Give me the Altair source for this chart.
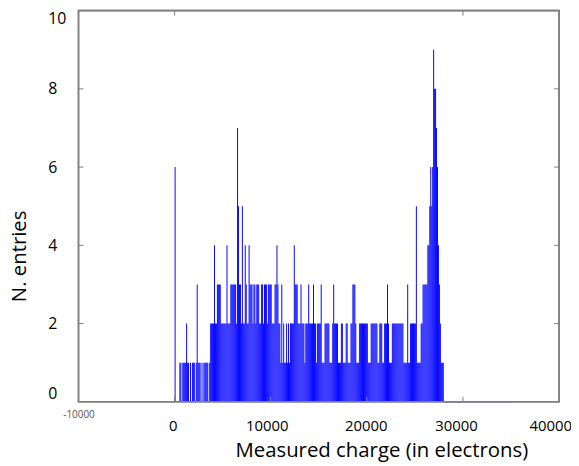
import altair as alt
import pandas as pd

# ---- data (histogram, 100-electron bins starting at 0) ----
bin_width = 100
counts = [
    6, 0, 0, 0, 0, 1, 1, 0, 1, 1,   # 0 - 900
    1, 1, 2, 1, 1, 0, 1, 0, 1, 1,   # 1000
    1, 0, 1, 3, 1, 1, 1, 0, 1, 0,   # 2000
    1, 1, 1, 1, 1, 0, 1, 2, 2, 2,   # 3000
    2, 4, 2, 2, 3, 3, 3, 3, 2, 2,   # 4000
    2, 2, 2, 2, 4, 2, 2, 2, 3, 3,   # 5000
    3, 3, 3, 3, 2, 7, 5, 3, 3, 2,   # 6000
    5, 2, 2, 4, 3, 2, 2, 4, 3, 3,   # 7000
    3, 2, 3, 3, 2, 3, 3, 3, 2, 2,   # 8000
    3, 3, 2, 3, 3, 3, 2, 3, 3, 3,   # 9000
    3, 2, 2, 2, 3, 3, 4, 3, 2, 2,   # 10000
    1, 3, 1, 2, 1, 1, 2, 1, 2, 1,   # 11000
    2, 2, 2, 2, 4, 3, 3, 3, 2, 2,   # 12000
    2, 3, 2, 2, 2, 1, 2, 2, 2, 3,   # 13000
    2, 2, 2, 2, 3, 2, 2, 1, 2, 2,   # 14000
    2, 2, 3, 1, 1, 1, 2, 2, 2, 2,   # 15000
    2, 1, 1, 1, 2, 3, 2, 2, 2, 2,   # 16000
    1, 1, 1, 2, 2, 1, 1, 1, 2, 2,   # 17000
    1, 1, 1, 2, 2, 3, 3, 3, 2, 1,   # 18000
    1, 1, 2, 2, 2, 2, 2, 2, 2, 2,   # 19000
    2, 1, 1, 1, 2, 2, 2, 2, 2, 2,   # 20000
    2, 1, 1, 2, 2, 2, 1, 1, 2, 2,   # 21000
    2, 3, 2, 1, 1, 1, 2, 2, 2, 2,   # 22000
    2, 2, 2, 2, 2, 2, 2, 2, 1, 1,   # 23000
    1, 1, 3, 1, 1, 2, 2, 2, 2, 2,   # 24000
    2, 5, 1, 1, 1, 1, 2, 2, 3, 3,   # 25000
    3, 3, 3, 4, 4, 5, 6, 5, 6, 9,   # 26000
    8, 8, 7, 6, 4, 3, 2, 1, 1, 1,   # 27000
]
x_ticks = [-10000, 0, 10000, 20000, 30000, 40000]
y_ticks = [0, 2, 4, 6, 8, 10]
inner_y_ticks = [2, 4, 6, 8]
top_ticks = [0, 30000]
bottom_ticks = [0, 10000, 20000, 30000]
tail_start = [28000]
tail_end = [35000]

starts = [i * bin_width for i in range(len(counts))]
hist = pd.DataFrame({"start": starts,
                     "end": [s + bin_width for s in starts],
                     "count": counts,
                     "base": [0] * len(counts)})
hist = hist[hist["count"] > 0]

FONT = "Open Sans"
W, H = 484, 394
FRAME = "#7f7f7f"

xscale = alt.Scale(domain=[-10000, 40000], nice=False, zero=False)
yscale = alt.Scale(domain=[0, 10], nice=False, zero=False)

x_axis = alt.Axis(
    values=x_ticks,
    title="Measured charge (in electrons)",
    labelExpr="datum.value < 0 ? '-' + format(-datum.value, 'd') : format(datum.value, 'd')",
    labelFont=FONT,
    labelFontSize={"condition": {"test": "datum.value == -10000", "value": 10}, "value": 15},
    labelColor={"condition": {"test": "datum.value == -10000", "value": "#555555"}, "value": "#000000"},
    labelPadding={"condition": {"test": "datum.value == -10000", "value": 8}, "value": 17},
    labelOffset={"condition": [
        {"test": "datum.value == 0", "value": -2},
        {"test": "datum.value == 10000", "value": -4},
        {"test": "datum.value == 20000", "value": -1},
        {"test": "datum.value == 30000", "value": -7},
        {"test": "datum.value == 40000", "value": -9},
    ], "value": 0},
    labelFlush=False,
    labelOverlap=False,
    ticks=False,
    tickSize=0,
    domain=False,
    grid=False,
    titleFont=FONT,
    titleFontSize=20.5,
    titleFontWeight="normal",
    titleColor="#000000",
    titleX=305,
    titleY=55,
    titleAlign="center",
    titleBaseline="alphabetic",
)

y_axis = alt.Axis(
    values=y_ticks,
    title="N. entries",
    format="d",
    labelFont=FONT,
    labelFontSize=16,
    labelColor="#000000",
    labelAlign="left",
    labelPadding=31,
    labelFlush=True,
    ticks=False,
    tickSize=0,
    domain=False,
    grid=False,
    titleFont=FONT,
    titleFontSize=20.5,
    titleFontWeight="normal",
    titleColor="#000000",
    titleX=-53.5,
    titleY=247,
    titleAngle=270,
    titleAlign="center",
    titleBaseline="alphabetic",
)

bars = alt.Chart(hist).mark_rect(color="#0000ff").encode(
    x=alt.X("start:Q", scale=xscale, axis=x_axis),
    x2="end:Q",
    y=alt.Y("count:Q", scale=yscale, axis=y_axis),
    y2="base:Q",
)

tail = alt.Chart(pd.DataFrame({"start": tail_start, "end": tail_end, "count": [0]})).mark_rule(
    color="#7070c0", strokeWidth=1.5
).encode(
    x="start:Q",
    x2="end:Q",
    y="count:Q",
)

ydf = pd.DataFrame({"count": inner_y_ticks})
left_ticks = alt.Chart(ydf).mark_rule(color=FRAME, strokeWidth=1).encode(
    y="count:Q",
    x=alt.value(0), x2=alt.value(5),
)
right_ticks = alt.Chart(ydf).mark_rule(color=FRAME, strokeWidth=1).encode(
    y="count:Q",
    x=alt.value(W - 5), x2=alt.value(W),
)
top_t = alt.Chart(pd.DataFrame({"start": top_ticks})).mark_rule(color=FRAME, strokeWidth=1).encode(
    x="start:Q",
    y=alt.value(0), y2=alt.value(5),
)
bot_t = alt.Chart(pd.DataFrame({"start": bottom_ticks})).mark_rule(color=FRAME, strokeWidth=1).encode(
    x="start:Q",
    y=alt.value(H - 5), y2=alt.value(H),
)

frame = alt.Chart(pd.DataFrame({"k": [0]})).mark_rect(
    fill=None, fillOpacity=0, stroke=FRAME, strokeWidth=1.6
).encode(
    x=alt.value(0), x2=alt.value(W),
    y=alt.value(0), y2=alt.value(H),
)

chart = alt.layer(bars, bot_t, tail, left_ticks, right_ticks, top_t, frame).properties(
    width=W,
    height=H,
    autosize=alt.AutoSizeParams(type="none"),
    padding={"left": 71, "top": 1, "right": 12, "bottom": 63},
    background="#ffffff",
).configure_view(
    stroke=FRAME,
    strokeWidth=1.5,
)

chart.save("out.html", embed_options={"renderer": "svg", "actions": False})
